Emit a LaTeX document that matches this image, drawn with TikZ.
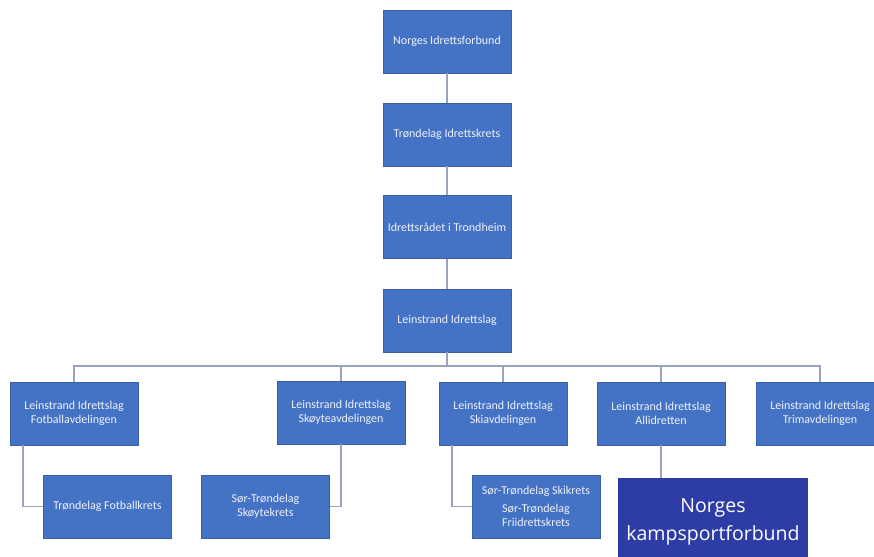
\documentclass[tikz,border=0pt]{standalone}
\usepackage{fontspec}
\setmainfont{Carlito}
\newfontfamily\bigfont{Open Sans}
\definecolor{boxblue}{HTML}{4472C4}
\definecolor{darkbox}{HTML}{2E3CA6}
\definecolor{linecol}{HTML}{98A3BE}
\definecolor{txtcol}{HTML}{EEF2FA}
\begin{document}
\begin{tikzpicture}[x=1pt,y=-1pt,
  orgbox/.style={fill=boxblue,draw=boxblue!85!black,line width=0.4pt,minimum width=128pt,minimum height=63pt,
    inner sep=2pt,align=center,text=txtcol,font=\fontsize{12}{14}\selectfont},
  bigbox/.style={fill=darkbox,minimum width=190pt,minimum height=88pt,inner sep=2pt,align=center,
    text=white,font=\bigfont\fontsize{19.5}{28}\selectfont},
  conn/.style={draw=linecol,line width=1.8pt}]
\useasboundingbox (0,0) rectangle (874,556);
\clip (0,0) rectangle (874,556);
\fill[white] (0,0) rectangle (874,556);
% top chain
\node[orgbox] (n1) at (447,41.5) {Norges Idrettsforbund};
\node[orgbox] (n2) at (447,134.5) {Trøndelag Idrettskrets};
\node[orgbox] (n3) at (447,227) {Idrettsrådet i Trondheim};
\node[orgbox] (n4) at (447,320.5) {Leinstrand Idrettslag};
% level 2
\node[orgbox] (a) at (74,413.5) {Leinstrand Idrettslag\\Fotballavdelingen};
\node[orgbox] (b) at (341,412.5) {Leinstrand Idrettslag\\Skøyteavdelingen};
\node[orgbox] (c) at (503,413.5) {Leinstrand Idrettslag\\Skiavdelingen};
\node[orgbox] (d) at (661,413.5) {Leinstrand Idrettslag\\Allidretten};
\node[orgbox] (e) at (820,413.5) {Leinstrand Idrettslag\\Trimavdelingen};
% level 3
\node[orgbox] (a1) at (107.5,506.5) {Trøndelag Fotballkrets};
\node[orgbox] (b1) at (265.5,506.5) {Sør-Trøndelag\\Skøytekrets};
\node[orgbox] (c1) at (536,506.5) {Sør-Trøndelag Skikrets\\[4pt]Sør-Trøndelag\\Friidrettskrets};
\node[bigbox] (d1) at (713,522) {Norges\\kampsportforbund};
% connectors
\coordinate (bus) at (447,366);
\draw[conn] (n1) -- (n2);
\draw[conn] (n2) -- (n3);
\draw[conn] (n3) -- (n4);
\draw[conn] (n4.south) -- (bus) -| (a.north);
\draw[conn] (bus) -| (b.north);
\draw[conn] (bus) -| (c.north);
\draw[conn] (bus) -| (d.north);
\draw[conn] (bus) -| (e.north);
\draw[conn] ([xshift=-51pt]a.south) |- (a1.west);
\draw[conn] (b.south) |- (b1.east);
\draw[conn] ([xshift=-51pt]c.south) |- (c1.west);
\draw[conn] (d.south) -- (d.south |- d1.north);
\end{tikzpicture}
\end{document}
